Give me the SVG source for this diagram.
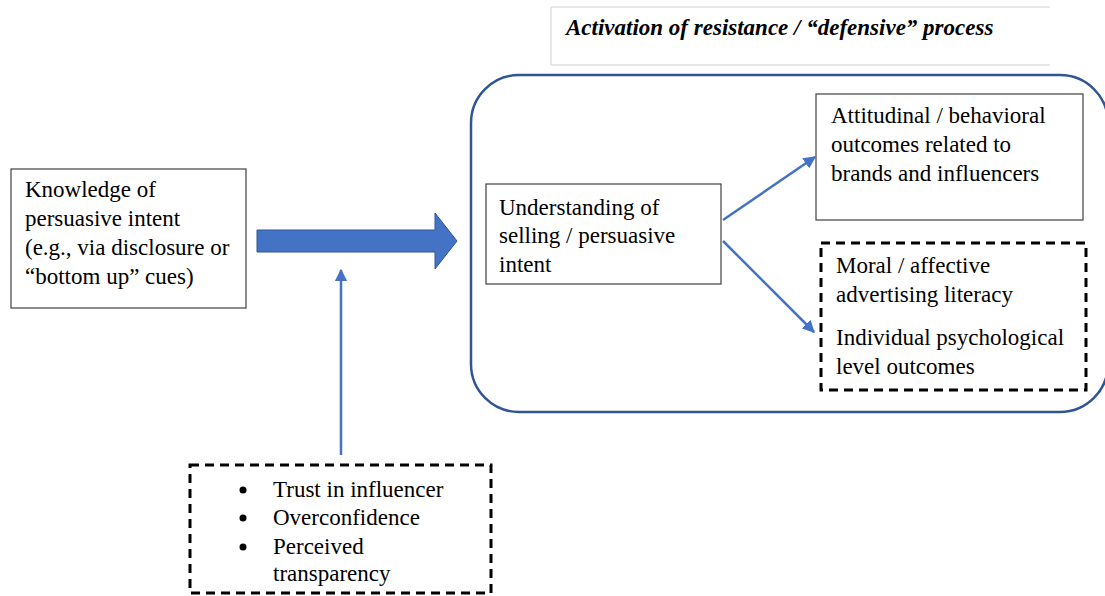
<svg xmlns="http://www.w3.org/2000/svg" width="1105" height="596" viewBox="0 0 1105 596">
<style>
.box{fill:#fff;stroke:#404040;stroke-width:1.2}
.dash{fill:#fff;stroke:#000;stroke-width:3;stroke-dasharray:9 6}
.conn{stroke:#4472C4;stroke-width:2.5;fill:none}
</style>
<defs>
<marker id="ah" viewBox="0 0 10 10" refX="9" refY="5" markerWidth="5" markerHeight="5" orient="auto" markerUnits="strokeWidth">
<path d="M0,0 L10,5 L0,10 z" fill="#4472C4"/>
</marker>
</defs>
<rect width="1105" height="596" fill="#fff"/>
<g font-family="Liberation Serif, Times New Roman, serif" font-size="23" fill="#000">
<g id="title">
<path d="M1050,7 H551 V65 H1050" fill="#fff" stroke="#d0d0d0" stroke-width="1"/>
<text x="566" y="35" font-weight="bold" font-style="italic">Activation of resistance / “defensive” process</text>
</g>
<g id="container">
<rect x="471" y="75" width="637" height="337" rx="48" ry="48" fill="none" stroke="#2F5597" stroke-width="2.5"/>
</g>
<g id="knowledge">
<rect class="box" x="11" y="169" width="235" height="139"/>
<text x="25" y="197">Knowledge of</text>
<text x="25" y="226">persuasive intent</text>
<text x="25" y="255">(e.g., via disclosure or</text>
<text x="25" y="284">“bottom up” cues)</text>
</g>
<g id="understanding">
<rect class="box" x="486" y="184" width="235" height="100"/>
<text x="499" y="215">Understanding of</text>
<text x="499" y="243">selling / persuasive</text>
<text x="499" y="272">intent</text>
</g>
<g id="attitudinal">
<rect class="box" x="816" y="94" width="267" height="126"/>
<text x="831" y="123">Attitudinal / behavioral</text>
<text x="831" y="152">outcomes related to</text>
<text x="831" y="181">brands and influencers</text>
</g>
<g id="moral">
<rect class="dash" x="821" y="243" width="265" height="147"/>
<text x="836" y="273">Moral / affective</text>
<text x="836" y="302">advertising literacy</text>
<text x="836" y="345">Individual psychological</text>
<text x="836" y="374">level outcomes</text>
</g>
<g id="moderators">
<rect class="dash" x="190" y="465" width="301" height="128"/>
<circle cx="243" cy="490" r="3.5"/>
<circle cx="243" cy="518" r="3.5"/>
<circle cx="243" cy="547" r="3.5"/>
<text x="273" y="497">Trust in influencer</text>
<text x="273" y="525">Overconfidence</text>
<text x="273" y="554">Perceived</text>
<text x="273" y="581">transparency</text>
</g>
</g>
<g id="connectors">
<path d="M257,230 H435 V213 L457,241 L435,269 V252 H257 Z" fill="#4472C4" stroke="#2F5597" stroke-width="1"/>
<line class="conn" x1="341" y1="455" x2="341" y2="270" marker-end="url(#ah)"/>
<line class="conn" x1="723" y1="220" x2="815" y2="157" marker-end="url(#ah)"/>
<line class="conn" x1="723" y1="241" x2="814" y2="332" marker-end="url(#ah)"/>
</g>
</svg>
